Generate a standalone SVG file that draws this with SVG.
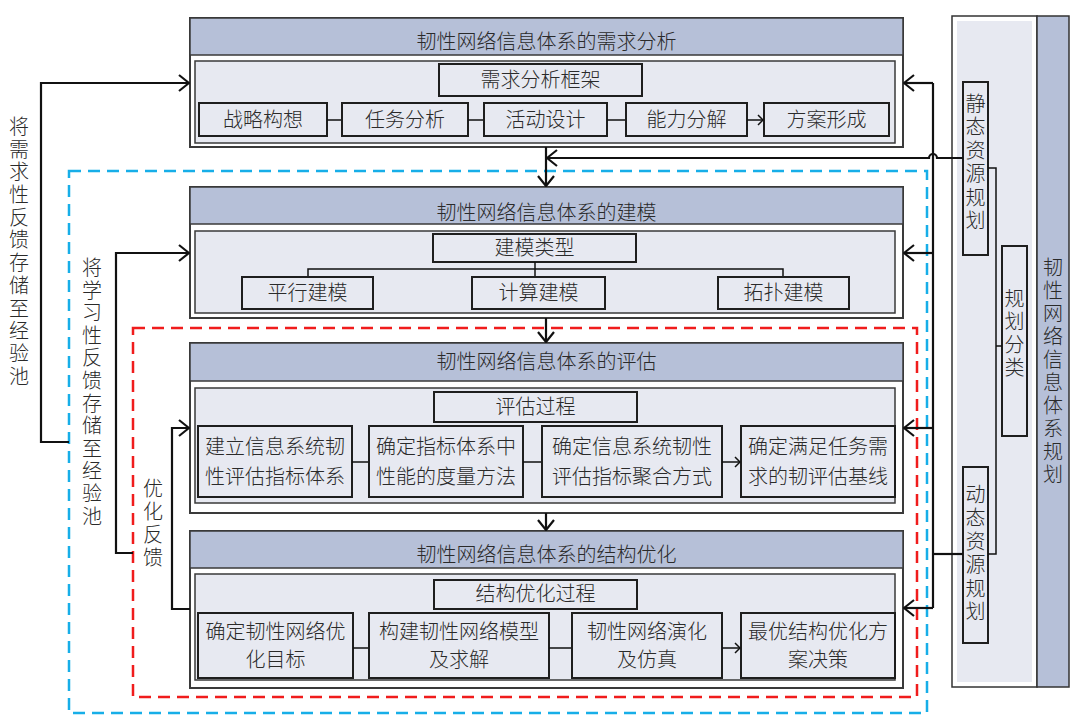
<svg xmlns="http://www.w3.org/2000/svg" width="1080" height="721" viewBox="0 0 1080 721">
<defs>
<style>
text{font-family:"Liberation Sans","Noto Sans CJK SC",sans-serif;fill:#2a2a2a;font-size:20px;font-weight:300}
.c{text-anchor:middle}
.outer{fill:#fff;stroke:#3a3a3a;stroke-width:2}
.hdr{fill:#b6c0d8;stroke:#3a3a3a;stroke-width:1.5}
.panel{fill:#e7e9f1;stroke:#3a3a3a;stroke-width:1.5}
.box{fill:#e7e9f1;stroke:#1e1e1e;stroke-width:2}
.ln{fill:none;stroke:#111;stroke-width:2.2}
.sl{fill:none;stroke:#111;stroke-width:1.5}
.blue{fill:none;stroke:#17aee8;stroke-width:2.5;stroke-dasharray:12 7}
.red{fill:none;stroke:#f01c1c;stroke-width:2.5;stroke-dasharray:12 7}
</style>
<marker id="ah" markerUnits="userSpaceOnUse" viewBox="0 0 12 18" refX="11" refY="9" markerWidth="12" markerHeight="18" orient="auto">
<path d="M1,1 L11,9 L1,17" fill="none" stroke="#111" stroke-width="2.2"/>
</marker>
<marker id="sa" markerUnits="userSpaceOnUse" viewBox="0 0 7 12" refX="6" refY="6" markerWidth="7" markerHeight="12" orient="auto">
<path d="M1,1 L6,6 L1,11" fill="none" stroke="#111" stroke-width="1.5"/>
</marker>
</defs>

<g id="dashed-frames">
<rect class="blue" x="69" y="171" width="858" height="542"/>
<rect class="red" x="133" y="328" width="784" height="369"/>
</g>

<g id="node-demand">
<rect class="outer" x="190" y="18" width="713" height="129"/>
<rect class="hdr" x="190" y="18" width="713" height="37"/>
<text class="c" x="546.5" y="49">韧性网络信息体系的需求分析</text>
<rect class="panel" x="195" y="61" width="700" height="82"/>
<rect class="box" x="439" y="64" width="203" height="32"/>
<text class="c" x="540.5" y="87">需求分析框架</text>
<rect class="box" x="199" y="103" width="128" height="33"/>
<text class="c" x="263" y="127">战略构想</text>
<rect class="box" x="342" y="103" width="126" height="33"/>
<text class="c" x="405" y="127">任务分析</text>
<rect class="box" x="484" y="103" width="123" height="33"/>
<text class="c" x="545.5" y="127">活动设计</text>
<rect class="box" x="626" y="103" width="121" height="33"/>
<text class="c" x="686.5" y="127">能力分解</text>
<rect class="box" x="764" y="103" width="125" height="33"/>
<text class="c" x="826.5" y="127">方案形成</text>
<path class="sl" d="M327,120 H341 M468,120 H483 M607,120 H625 M747,120 H763" marker-end="url(#sa)"/>
</g>

<g id="node-modeling">
<rect class="outer" x="190" y="187" width="713" height="131"/>
<rect class="hdr" x="190" y="187" width="713" height="37"/>
<text class="c" x="546.5" y="220">韧性网络信息体系的建模</text>
<rect class="panel" x="195" y="231" width="700" height="82"/>
<rect class="box" x="433" y="234" width="203" height="28"/>
<text class="c" x="534.5" y="255">建模类型</text>
<path class="sl" d="M535,262 V277 M308,277 V269 H783 V277"/>
<rect class="box" x="242" y="277" width="131" height="32"/>
<text class="c" x="307.5" y="300">平行建模</text>
<rect class="box" x="472" y="277" width="133" height="32"/>
<text class="c" x="538.5" y="300">计算建模</text>
<rect class="box" x="718" y="277" width="131" height="32"/>
<text class="c" x="783.5" y="300">拓扑建模</text>
</g>

<g id="node-evaluation">
<rect class="outer" x="190" y="343" width="713" height="170"/>
<rect class="hdr" x="190" y="343" width="713" height="38"/>
<text class="c" x="546.5" y="369">韧性网络信息体系的评估</text>
<rect class="panel" x="195" y="388" width="700" height="115"/>
<rect class="box" x="434" y="392" width="203" height="30"/>
<text class="c" x="535.5" y="414">评估过程</text>
<rect class="box" x="198" y="426" width="154" height="71"/>
<text class="c" x="275" y="454">建立信息系统韧</text>
<text class="c" x="275" y="484">性评估指标体系</text>
<rect class="box" x="369" y="426" width="154" height="71"/>
<text class="c" x="446" y="454">确定指标体系中</text>
<text class="c" x="446" y="484">性能的度量方法</text>
<rect class="box" x="542" y="426" width="180" height="71"/>
<text class="c" x="632" y="454">确定信息系统韧性</text>
<text class="c" x="632" y="484">评估指标聚合方式</text>
<rect class="box" x="741" y="426" width="154" height="71"/>
<text class="c" x="818" y="454">确定满足任务需</text>
<text class="c" x="818" y="484">求的韧评估基线</text>
<path class="sl" d="M352,462 H368 M523,462 H541 M722,462 H740" marker-end="url(#sa)"/>
</g>

<g id="node-optimization">
<rect class="outer" x="190" y="531" width="713" height="157"/>
<rect class="hdr" x="190" y="531" width="713" height="37"/>
<text class="c" x="546.5" y="562">韧性网络信息体系的结构优化</text>
<rect class="panel" x="195" y="574" width="700" height="106"/>
<rect class="box" x="434" y="580" width="203" height="29"/>
<text class="c" x="535.5" y="601">结构优化过程</text>
<rect class="box" x="198" y="613" width="155" height="65"/>
<text class="c" x="275.5" y="639">确定韧性网络优</text>
<text class="c" x="275.5" y="667">化目标</text>
<rect class="box" x="369" y="613" width="180" height="65"/>
<text class="c" x="459" y="639">构建韧性网络模型</text>
<text class="c" x="459" y="667">及求解</text>
<rect class="box" x="572" y="613" width="150" height="65"/>
<text class="c" x="647" y="639">韧性网络演化</text>
<text class="c" x="647" y="667">及仿真</text>
<rect class="box" x="741" y="613" width="154" height="65"/>
<text class="c" x="818" y="639">最优结构优化方</text>
<text class="c" x="818" y="667">案决策</text>
<path class="sl" d="M353,648 H368 M549,648 H571 M722,648 H740" marker-end="url(#sa)"/>
</g>

<g id="node-planning">
<rect x="952" y="16" width="85" height="671" fill="#fff" stroke="#333" stroke-width="1.5"/>
<rect x="957" y="21" width="75" height="661" fill="#e7e9f1"/>
<rect x="1037" y="16" width="32" height="671" fill="#b6c0d8" stroke="#333" stroke-width="1.5"/>
<text class="c" x="1053"><tspan x="1053" y="275">韧</tspan><tspan x="1053" y="298">性</tspan><tspan x="1053" y="321">网</tspan><tspan x="1053" y="344">络</tspan><tspan x="1053" y="367">信</tspan><tspan x="1053" y="390">息</tspan><tspan x="1053" y="413">体</tspan><tspan x="1053" y="436">系</tspan><tspan x="1053" y="459">规</tspan><tspan x="1053" y="482">划</tspan></text>
</g>

<g id="node-static">
<rect class="box" x="963" y="82" width="25" height="173"/>
<text class="c" x="975.5"><tspan x="975.5" y="111">静</tspan><tspan x="975.5" y="134">态</tspan><tspan x="975.5" y="158">资</tspan><tspan x="975.5" y="181">源</tspan><tspan x="975.5" y="205">规</tspan><tspan x="975.5" y="228">划</tspan></text>
</g>

<g id="node-category">
<rect class="box" x="1002" y="246" width="25" height="190"/>
<text class="c" x="1014.5"><tspan x="1014.5" y="306">规</tspan><tspan x="1014.5" y="329">划</tspan><tspan x="1014.5" y="352">分</tspan><tspan x="1014.5" y="375">类</tspan></text>
</g>

<g id="node-dynamic">
<rect class="box" x="963" y="467" width="25" height="176"/>
<text class="c" x="975.5"><tspan x="975.5" y="502">动</tspan><tspan x="975.5" y="525">态</tspan><tspan x="975.5" y="549">资</tspan><tspan x="975.5" y="572">源</tspan><tspan x="975.5" y="596">规</tspan><tspan x="975.5" y="619">划</tspan></text>
</g>

<g id="labels">
<text class="c" x="19"><tspan x="19" y="134">将</tspan><tspan x="19" y="157">需</tspan><tspan x="19" y="179">求</tspan><tspan x="19" y="202">性</tspan><tspan x="19" y="225">反</tspan><tspan x="19" y="247">馈</tspan><tspan x="19" y="270">存</tspan><tspan x="19" y="293">储</tspan><tspan x="19" y="316">至</tspan><tspan x="19" y="338">经</tspan><tspan x="19" y="361">验</tspan><tspan x="19" y="384">池</tspan></text>
<text class="c" x="92"><tspan x="92" y="275">将</tspan><tspan x="92" y="298">学</tspan><tspan x="92" y="320">习</tspan><tspan x="92" y="343">性</tspan><tspan x="92" y="365">反</tspan><tspan x="92" y="388">馈</tspan><tspan x="92" y="411">存</tspan><tspan x="92" y="433">储</tspan><tspan x="92" y="456">至</tspan><tspan x="92" y="478">经</tspan><tspan x="92" y="501">验</tspan><tspan x="92" y="524">池</tspan></text>
<text class="c" x="153"><tspan x="153" y="496">优</tspan><tspan x="153" y="519">化</tspan><tspan x="153" y="542">反</tspan><tspan x="153" y="565">馈</tspan></text>
</g>

<g id="connectors">
<path class="ln" d="M546,147 V186" marker-end="url(#ah)"/>
<path class="ln" d="M546,318 V342" marker-end="url(#ah)"/>
<path class="ln" d="M546,513 V530" marker-end="url(#ah)"/>
<path class="ln" d="M963,158 H937 A4,4 0 0 0 929,158 H547" marker-end="url(#ah)"/>
<path class="ln" d="M69,442 H41 V83 H189" marker-end="url(#ah)"/>
<path class="ln" d="M133,553 H116 V253 H189" marker-end="url(#ah)"/>
<path class="ln" d="M190,609 H172 V428 H189" marker-end="url(#ah)"/>
<path class="ln" d="M933,83 V608"/>
<path class="ln" d="M933,83 H904" marker-end="url(#ah)"/>
<path class="ln" d="M933,253 H904" marker-end="url(#ah)"/>
<path class="ln" d="M933,428 H904" marker-end="url(#ah)"/>
<path class="ln" d="M933,608 H904" marker-end="url(#ah)"/>
<path class="ln" d="M963,554 H933"/>
<path class="sl" d="M988,168 H996 V554 H988 M996,346 H1002"/>
</g>
</svg>
